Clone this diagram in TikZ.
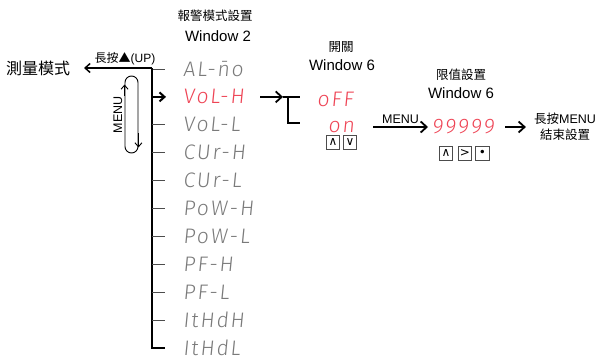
\documentclass[tikz,border=0pt]{standalone}
\usepackage{fontspec}
\setmainfont{Liberation Sans}
\newfontfamily\cjk{Noto Sans CJK TC}
\newfontfamily\seg{Fira Sans}[UprightFont={* Light},FakeSlant=0.1,LetterSpace=9]
\newfontfamily\sym{DejaVu Sans}
\usetikzlibrary{arrows.meta}
\definecolor{segred}{HTML}{EE4455}
\definecolor{seggray}{HTML}{7A7A7A}
\tikzset{
  segtxt/.style={font=\seg\fontsize{21}{21}\selectfont, anchor=west, inner sep=0pt},
  segoff/.style={segtxt, text=seggray},
  segon/.style={segtxt, text=segred},
  cjklbl/.style={font=\cjk\fontsize{12.5}{15}\selectfont, inner sep=0pt},
  winlbl/.style={font=\fontsize{15}{17}\selectfont, inner sep=0pt},
  trunk/.style={line width=1.3pt, black},
  tickln/.style={line width=1pt, black!70},
  flow/.style={line width=1.8pt, -{Straight Barb[length=6pt,width=11pt]}},
  keybox/.style={draw=black!70, line width=0.8pt, minimum width=13.5pt, minimum height=13.5pt, inner sep=0pt, font=\sym\fontsize{12}{12}\selectfont},
}
\begin{document}
\begin{tikzpicture}[x=1pt,y=-1pt]
\useasboundingbox (0,0) rectangle (596,361);

% left: measure mode
\node[font=\cjk\fontsize{16}{18}\selectfont, inner sep=0pt] (meas) at (38,68) {測量模式};
\coordinate (top) at (152,68);
\coordinate (meastip) at (84,68);
\draw[line width=1.5pt, -{Straight Barb[length=5pt,width=9pt]}] (top) -- (meastip);
\node[font=\fontsize{12}{14}\selectfont, inner sep=0pt, anchor=south] (uplbl) at (125,65) {{\cjk 長按▲}(UP)};

% title
\node[cjklbl] (t1) at (215,16) {報警模式設置};
\node[winlbl] (w1) at (218,36) {Window 2};

% rows
\node[segoff] (r1) at (183,69) {AL-\=no};
\node[segon] (r2) at (183,96.9) {VoL-H};
\node[segoff] (r3) at (183,124.8) {VoL-L};
\node[segoff] (r4) at (183,152.7) {CUr-H};
\node[segoff] (r5) at (183,180.6) {CUr-L};
\node[segoff] (r6) at (183,208.5) {PoW-H};
\node[segoff] (r7) at (183,236.4) {PoW-L};
\node[segoff] (r8) at (183,264.3) {PF-H};
\node[segoff] (r9) at (183,292.2) {PF-L};
\node[segoff] (r10) at (183,320.1) {ItHdH};
\node[segoff] (r11) at (183,348) {ItHdL};

% trunk and ticks
\draw[trunk] (top) -- (top |- r11.west) -- ++(13,0);
\foreach \i in {1,3,4,5,6,7,8,9,10}{
  \draw[tickln] (top |- r\i.west) -- ++(13,0);
}
\draw[line width=2pt, -{Straight Barb[length=5pt,width=9pt]}] (top) |- ([xshift=-17pt]r2.west);

% MENU loop
\node[draw, line width=0.9pt, rounded corners=6.5pt, minimum width=13pt, minimum height=77pt, inner sep=0pt] (loop) at (131.5,114.5) {};
\draw[line width=0.9pt, -{Straight Barb[length=4pt,width=7pt]}] ([yshift=-20pt]loop.north west) -- ([yshift=-9pt]loop.north west);
\draw[line width=0.9pt, -{Straight Barb[length=4pt,width=7pt]}] ([yshift=20pt]loop.south east) -- ([yshift=6pt]loop.south east);
\node[rotate=90, font=\fontsize{12.5}{14}\selectfont, inner sep=0pt] (menu1) at (118,115) {MENU};

% switch
\coordinate (brk) at (283,96.9);
\draw[flow] (260,96.9) -- (brk);
\draw[line width=2pt] (brk) -- (300,96.9);
\draw[line width=2pt] (288,96.9) |- (300,123);
\node[cjklbl] (t2) at (341,47) {開關};
\node[winlbl] (w2) at (342,65) {Window 6};
\node[segon] (foff) at (317,99) {oFF};
\node[segon] (fon) at (328,127) {on};
\node[keybox] (k1) at (333,142.5) {∧};
\node[keybox] (k2) at (350,142.5) {∨};

% limit value
\node[cjklbl] (t3) at (461,75) {限值設置};
\node[winlbl] (w3) at (461,93) {Window 6};
\node[segon] (val) at (432,127) {99999};
\draw[flow] (373,127) -- node[above=2pt, font=\fontsize{12.5}{14}\selectfont, inner sep=0pt] (menu2) {MENU} ([xshift=-4pt]val.west);
\node[keybox] (k3) at (446,153.5) {∧};
\node[keybox] (k4) at (465,153.5) {>};
\node[keybox] (k5) at (482.5,153.5) {•};

% end
\node[font=\fontsize{12.5}{16}\selectfont, inner sep=0pt, align=center] (endn) at (565,127) {{\cjk 長按}MENU\\{\cjk 結束設置}};
\draw[flow] (505,127) -- ([xshift=-8pt]endn.west);
\end{tikzpicture}
\end{document}
